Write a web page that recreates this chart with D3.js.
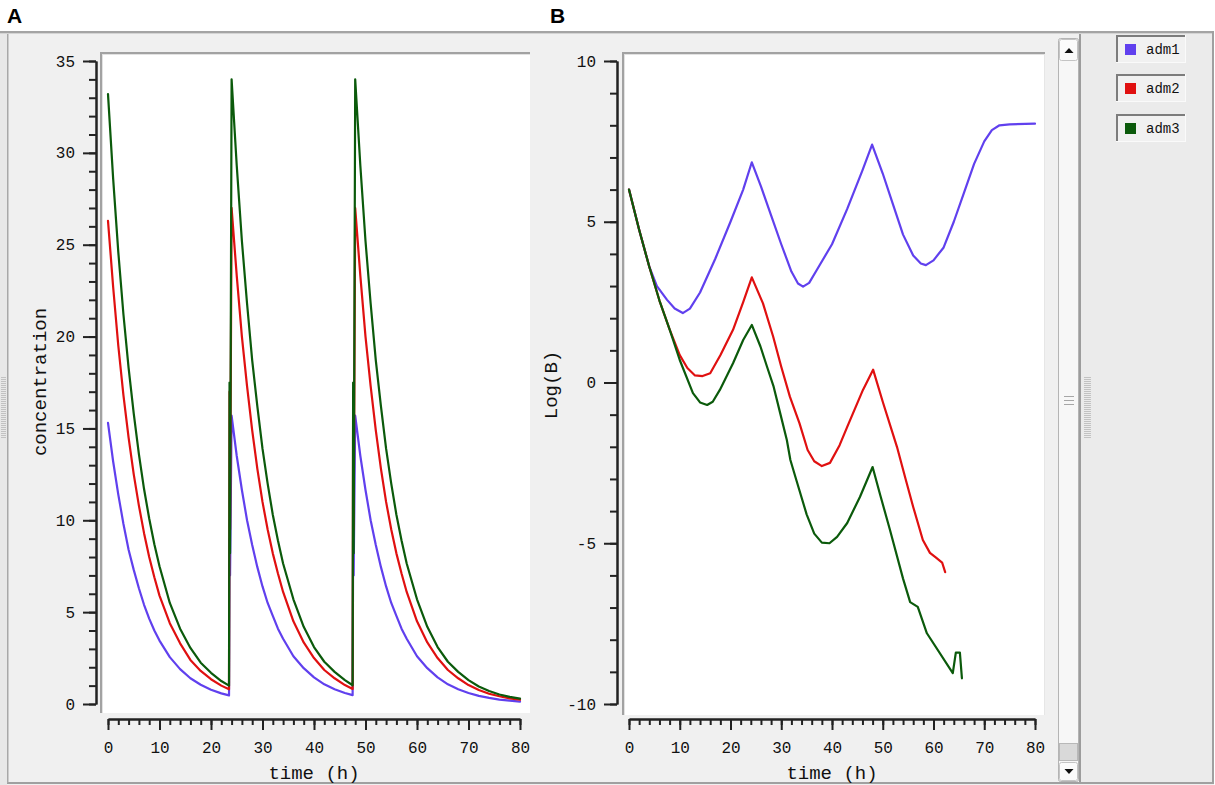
<!DOCTYPE html>
<html><head><meta charset="utf-8">
<script src="https://cdn.jsdelivr.net/npm/d3@7"></script>
<style>
html,body{margin:0;padding:0;background:#fff;}
svg{display:block;}
</style></head>
<body><svg id="c" width="1215" height="785"></svg>
<script>
// ---------- data ----------
const seriesNames = ["adm1", "adm2", "adm3"];
const seriesColors = ["#6040ee", "#e01010", "#0b5a0b"];
const timeTicks = [0, 10, 20, 30, 40, 50, 60, 70, 80];
const concTicks = [0, 5, 10, 15, 20, 25, 30, 35];
const logTicks = [-10, -5, 0, 5, 10];

// Panel A: concentration vs time (shared time grid)
const concTime = [0,1,2,3,4,5,6,7,8,9,10,12,14,16,18,20,22,23.5,
  23.6,23.7,
  24,25,26,27,28,29,30,31,32,33,34,36,38,40,42,44,46,47.5,
  47.6,47.7,
  48,49,50,51,52,53,54,55,56,57,58,60,62,64,66,68,70,72,74,76,78,80];
const concAdm1 = [15.3,13.2,11.4,9.8,8.4,7.3,6.3,5.4,4.65,4.0,3.45,2.55,1.9,1.4,1.05,0.78,0.58,0.47,
  9.0,7.0,
  15.7,13.5,11.65,10.0,8.65,7.45,6.4,5.5,4.8,4.1,3.55,2.6,1.95,1.45,1.07,0.8,0.6,0.48,
  9.0,7.0,
  15.7,13.5,11.65,10.0,8.65,7.45,6.4,5.5,4.8,4.1,3.55,2.6,1.95,1.45,1.07,0.8,0.6,0.44,0.33,0.24,0.18,0.13];
const concAdm2 = [26.3,22.7,19.5,16.8,14.5,12.5,10.8,9.3,8.0,6.9,5.9,4.4,3.3,2.4,1.8,1.35,1.0,0.8,
  17.0,9.5,
  27.0,23.3,20.0,17.3,14.9,12.8,11.0,9.5,8.2,7.1,6.1,4.5,3.35,2.5,1.85,1.4,1.03,0.82,
  17.0,9.5,
  27.0,23.3,20.0,17.3,14.9,12.8,11.0,9.5,8.2,7.1,6.1,4.5,3.35,2.5,1.85,1.4,1.03,0.76,0.56,0.42,0.31,0.23];
const concAdm3 = [33.2,28.6,24.6,21.2,18.3,15.8,13.6,11.7,10.1,8.7,7.5,5.5,4.1,3.05,2.25,1.7,1.25,1.0,
  17.5,8.2,
  34.0,29.3,25.2,21.8,18.7,16.2,13.9,12.0,10.3,8.9,7.65,5.7,4.2,3.1,2.3,1.75,1.3,1.02,
  17.5,8.2,
  34.0,29.3,25.2,21.8,18.7,16.2,13.9,12.0,10.3,8.9,7.65,5.7,4.2,3.1,2.3,1.75,1.3,0.95,0.71,0.52,0.39,0.29];

// Panel B: Log(B) vs time
const logTimeAdm1 = [0,2,4,5.5,7.5,9,10.6,12,14,17,20,22.5,24.2,26,28,30,32,33.3,34.3,35.5,37,40,43,46,47.9,50,52,54,56,57.5,58.5,60,62,64,66,68,70,71.5,73,75,80];
const logAdm1 = [6.0,4.75,3.6,3.0,2.57,2.3,2.16,2.3,2.8,3.85,5.0,6.0,6.85,6.1,5.2,4.3,3.45,3.08,2.98,3.1,3.5,4.3,5.4,6.6,7.4,6.5,5.55,4.6,3.95,3.7,3.65,3.8,4.2,5.0,5.9,6.8,7.5,7.85,8.0,8.03,8.05];
const logTimeAdm2 = [0,2,4,6,8,10,11.5,13,14.5,16,18,20.5,22.5,24.2,26.4,28.4,30,31.7,33.6,35.2,36.5,38,39.6,41.5,43,46.1,48.1,50,52.8,54.5,56,57.9,59.3,60.5,61.7,62.3];
const logAdm2 = [6.0,4.75,3.6,2.55,1.65,0.85,0.45,0.22,0.2,0.29,0.85,1.64,2.5,3.27,2.46,1.43,0.49,-0.44,-1.27,-2.1,-2.45,-2.6,-2.5,-1.95,-1.38,-0.23,0.4,-0.6,-2.0,-3.0,-3.87,-4.9,-5.3,-5.45,-5.6,-5.9];
const logTimeAdm3 = [0,2,4,6,8,10,12.6,14,15.4,16.5,17.9,20.5,22.5,24.2,25.9,27.2,28.5,29.8,31.1,31.8,33,35,36.5,38,39.5,41,43,45.5,48,49.5,51.4,54,55.4,56.9,58.7,63.8,64.4,65.2,65.6];
const logAdm3 = [6.0,4.75,3.6,2.55,1.65,0.7,-0.33,-0.62,-0.7,-0.6,-0.23,0.6,1.32,1.79,1.12,0.49,-0.13,-0.96,-1.79,-2.41,-3.05,-4.1,-4.7,-4.98,-5.0,-4.8,-4.37,-3.56,-2.63,-3.5,-4.57,-6.1,-6.83,-6.98,-7.8,-9.04,-8.4,-8.4,-9.2];

// ---------- drawing ----------
const svg = d3.select("#c");
const monoFont = "'Liberation Mono','DejaVu Sans Mono',monospace";

function rect(x, y, w, h, fill, extra) {
  const r = svg.append("rect").attr("x", x).attr("y", y).attr("width", w).attr("height", h).attr("fill", fill);
  if (extra) extra(r);
  return r;
}

rect(0, 0, 1215, 785, "#ffffff");
// outer window frame
rect(0, 31, 1214, 754, "#f0f0f0");
rect(0, 31, 1214, 2, "#a4a4a4");
rect(0, 33, 1214, 1, "#d4d4d4");
rect(7, 782, 1207, 2, "#a0a0a0");
rect(0, 34, 7, 751, "#e8e8e8");
rect(7, 34, 1.5, 749, "#a8a8a8");
// legend side area
rect(1081, 34, 132, 748, "#ebebeb");
rect(1079, 34, 2, 748, "#9c9c9c");
rect(1212, 31, 2, 753, "#a0a0a0");

// splitter grips
function grip(x, y0, y1, w) {
  for (let y = y0; y <= y1; y += 2) rect(x, y, w, 1, "#c2c2c2");
}
grip(1, 377, 437, 5);
grip(1084, 377, 437, 7);

// Plot area backgrounds
function plotArea(x0, y0, x1, y1) {
  rect(x0, y0, x1 - x0, y1 - y0, "#ffffff");
  rect(x0, y0, x1 - x0, 2, "#a2a2a2");
  rect(x0, y0, 2, y1 - y0, "#a2a2a2");
  rect(x0 + 2, y0 + 2, x1 - x0 - 2, 1, "#e2e2e2");
  rect(x0 + 2, y0 + 2, 1, y1 - y0 - 2, "#e2e2e2");
}
plotArea(100, 52, 530, 713);
plotArea(622, 52, 1045, 715);
rect(1044, 54, 1, 661, "#e6e6e6");

// scrollbar
rect(1058.5, 38.5, 20, 743, "#f7f7f7", r => r.attr("stroke", "#b4b4b4").attr("rx", 2));
rect(1059.5, 39.5, 18, 21, "#fbfbfb", r => r.attr("stroke", "#c4c4c4").attr("rx", 2));
rect(1059.5, 743.5, 18, 17, "#d9d9d9", r => r.attr("stroke", "#b8b8b8"));
rect(1059.5, 762.5, 18, 18, "#fbfbfb", r => r.attr("stroke", "#c4c4c4").attr("rx", 2));
svg.append("path").attr("d", "M1064.5,53 L1073.5,53 L1069,48 Z").attr("fill", "#111");
svg.append("path").attr("d", "M1064.5,769 L1073.5,769 L1069,774 Z").attr("fill", "#111");
[396, 400, 404].forEach(y => rect(1064, y, 10, 1, "#a6a6a6"));

// panel letters
svg.append("text").attr("x", 7).attr("y", 23).text("A")
  .attr("font-family", "'Liberation Sans',Arial,sans-serif").attr("font-weight", "bold").attr("font-size", 21).attr("fill", "#000");
svg.append("text").attr("x", 550).attr("y", 23).text("B")
  .attr("font-family", "'Liberation Sans',Arial,sans-serif").attr("font-weight", "bold").attr("font-size", 21).attr("fill", "#000");

// scales
const xA = d3.scaleLinear().domain([0, 80]).range([108, 520]);
const yA = d3.scaleLinear().domain([0, 35]).range([704, 61]);
const xB = d3.scaleLinear().domain([0, 80]).range([629, 1035]);
const yB = d3.scaleLinear().domain([-10, 10]).range([704, 61]);

function styleAxis(g) {
  g.selectAll("path.domain").attr("stroke", "#222").attr("stroke-width", 2);
  g.selectAll(".tick line").attr("stroke", "#222").attr("stroke-width", 2);
  g.selectAll(".tick text").attr("font-family", monoFont).attr("font-size", 16).attr("fill", "#111");
}

function drawAxes(x, y, xAxisY, yAxisX, yTicks, yMinorStep, yTitle, yTitleX, yTitleY) {
  // minor y ticks
  const yMin = y.domain()[0], yMax = y.domain()[1];
  const minorY = d3.range(yMin, yMax + 0.001, yMinorStep);
  const gmy = svg.append("g").attr("transform", `translate(${yAxisX},0)`)
    .call(d3.axisLeft(y).tickValues(minorY).tickSize(7).tickSizeOuter(0).tickFormat(""));
  styleAxis(gmy);
  const gy = svg.append("g").attr("transform", `translate(${yAxisX},0)`)
    .call(d3.axisLeft(y).tickValues(yTicks).tickSize(13).tickSizeOuter(0).tickPadding(8).tickFormat(d3.format("d")));
  styleAxis(gy);
  gy.selectAll(".tick text").text(d => d < 0 ? "-" + Math.abs(d) : d);

  // x axis
  const minorX = d3.range(0, 80.001, 2);
  const gmx = svg.append("g").attr("transform", `translate(0,${xAxisY})`)
    .call(d3.axisBottom(x).tickValues(minorX).tickSize(6).tickSizeOuter(0).tickFormat(""));
  styleAxis(gmx);
  const gx = svg.append("g").attr("transform", `translate(0,${xAxisY})`)
    .call(d3.axisBottom(x).tickValues(timeTicks).tickSize(11).tickSizeOuter(0));
  styleAxis(gx);
  gx.selectAll(".tick text").attr("y", 34).attr("dy", 0);

  const cx = (x.range()[0] + x.range()[1]) / 2;
  svg.append("text").attr("x", cx).attr("y", 779).attr("text-anchor", "middle")
    .attr("font-family", monoFont).attr("font-size", 19).attr("fill", "#111").text("time (h)");
  svg.append("text").attr("transform", `translate(${yTitleX},${yTitleY}) rotate(-90)`)
    .attr("text-anchor", "middle").attr("font-family", monoFont).attr("font-size", 19).attr("fill", "#111").text(yTitle);
}

drawAxes(xA, yA, 719, 96, concTicks, 1, "concentration", 46, 382);
drawAxes(xB, yB, 719, 617, logTicks, 1, "Log(B)", 557, 385);

// lines
function drawLine(x, y, ts, vs, color) {
  const pts = ts.map((t, i) => [t, vs[i]]);
  svg.append("path").datum(pts)
    .attr("d", d3.line().x(d => x(d[0])).y(d => y(d[1])))
    .attr("fill", "none").attr("stroke", color).attr("stroke-width", 2.2)
    .attr("stroke-linejoin", "round").attr("stroke-linecap", "round");
}
[concAdm1, concAdm2, concAdm3].forEach((vs, i) => drawLine(xA, yA, concTime, vs, seriesColors[i]));
drawLine(xB, yB, logTimeAdm1, logAdm1, seriesColors[0]);
drawLine(xB, yB, logTimeAdm2, logAdm2, seriesColors[1]);
drawLine(xB, yB, logTimeAdm3, logAdm3, seriesColors[2]);

// legend
const legendY = [35, 74, 114];
seriesNames.forEach((name, i) => {
  const y0 = legendY[i];
  rect(1116, y0, 70, 28, "#f1f1f1");
  rect(1116, y0, 70, 2, "#7c7c7c");
  rect(1116, y0, 2, 28, "#7c7c7c");
  rect(1116, y0 + 27, 70, 1, "#fafafa");
  rect(1185, y0, 1, 28, "#fafafa");
  rect(1125, y0 + 9, 11, 11, seriesColors[i]);
  svg.append("text").attr("x", 1146).attr("y", y0 + 19).attr("font-family", monoFont)
    .attr("font-size", 14).attr("fill", "#111").text(name);
});
</script>
</body></html>
